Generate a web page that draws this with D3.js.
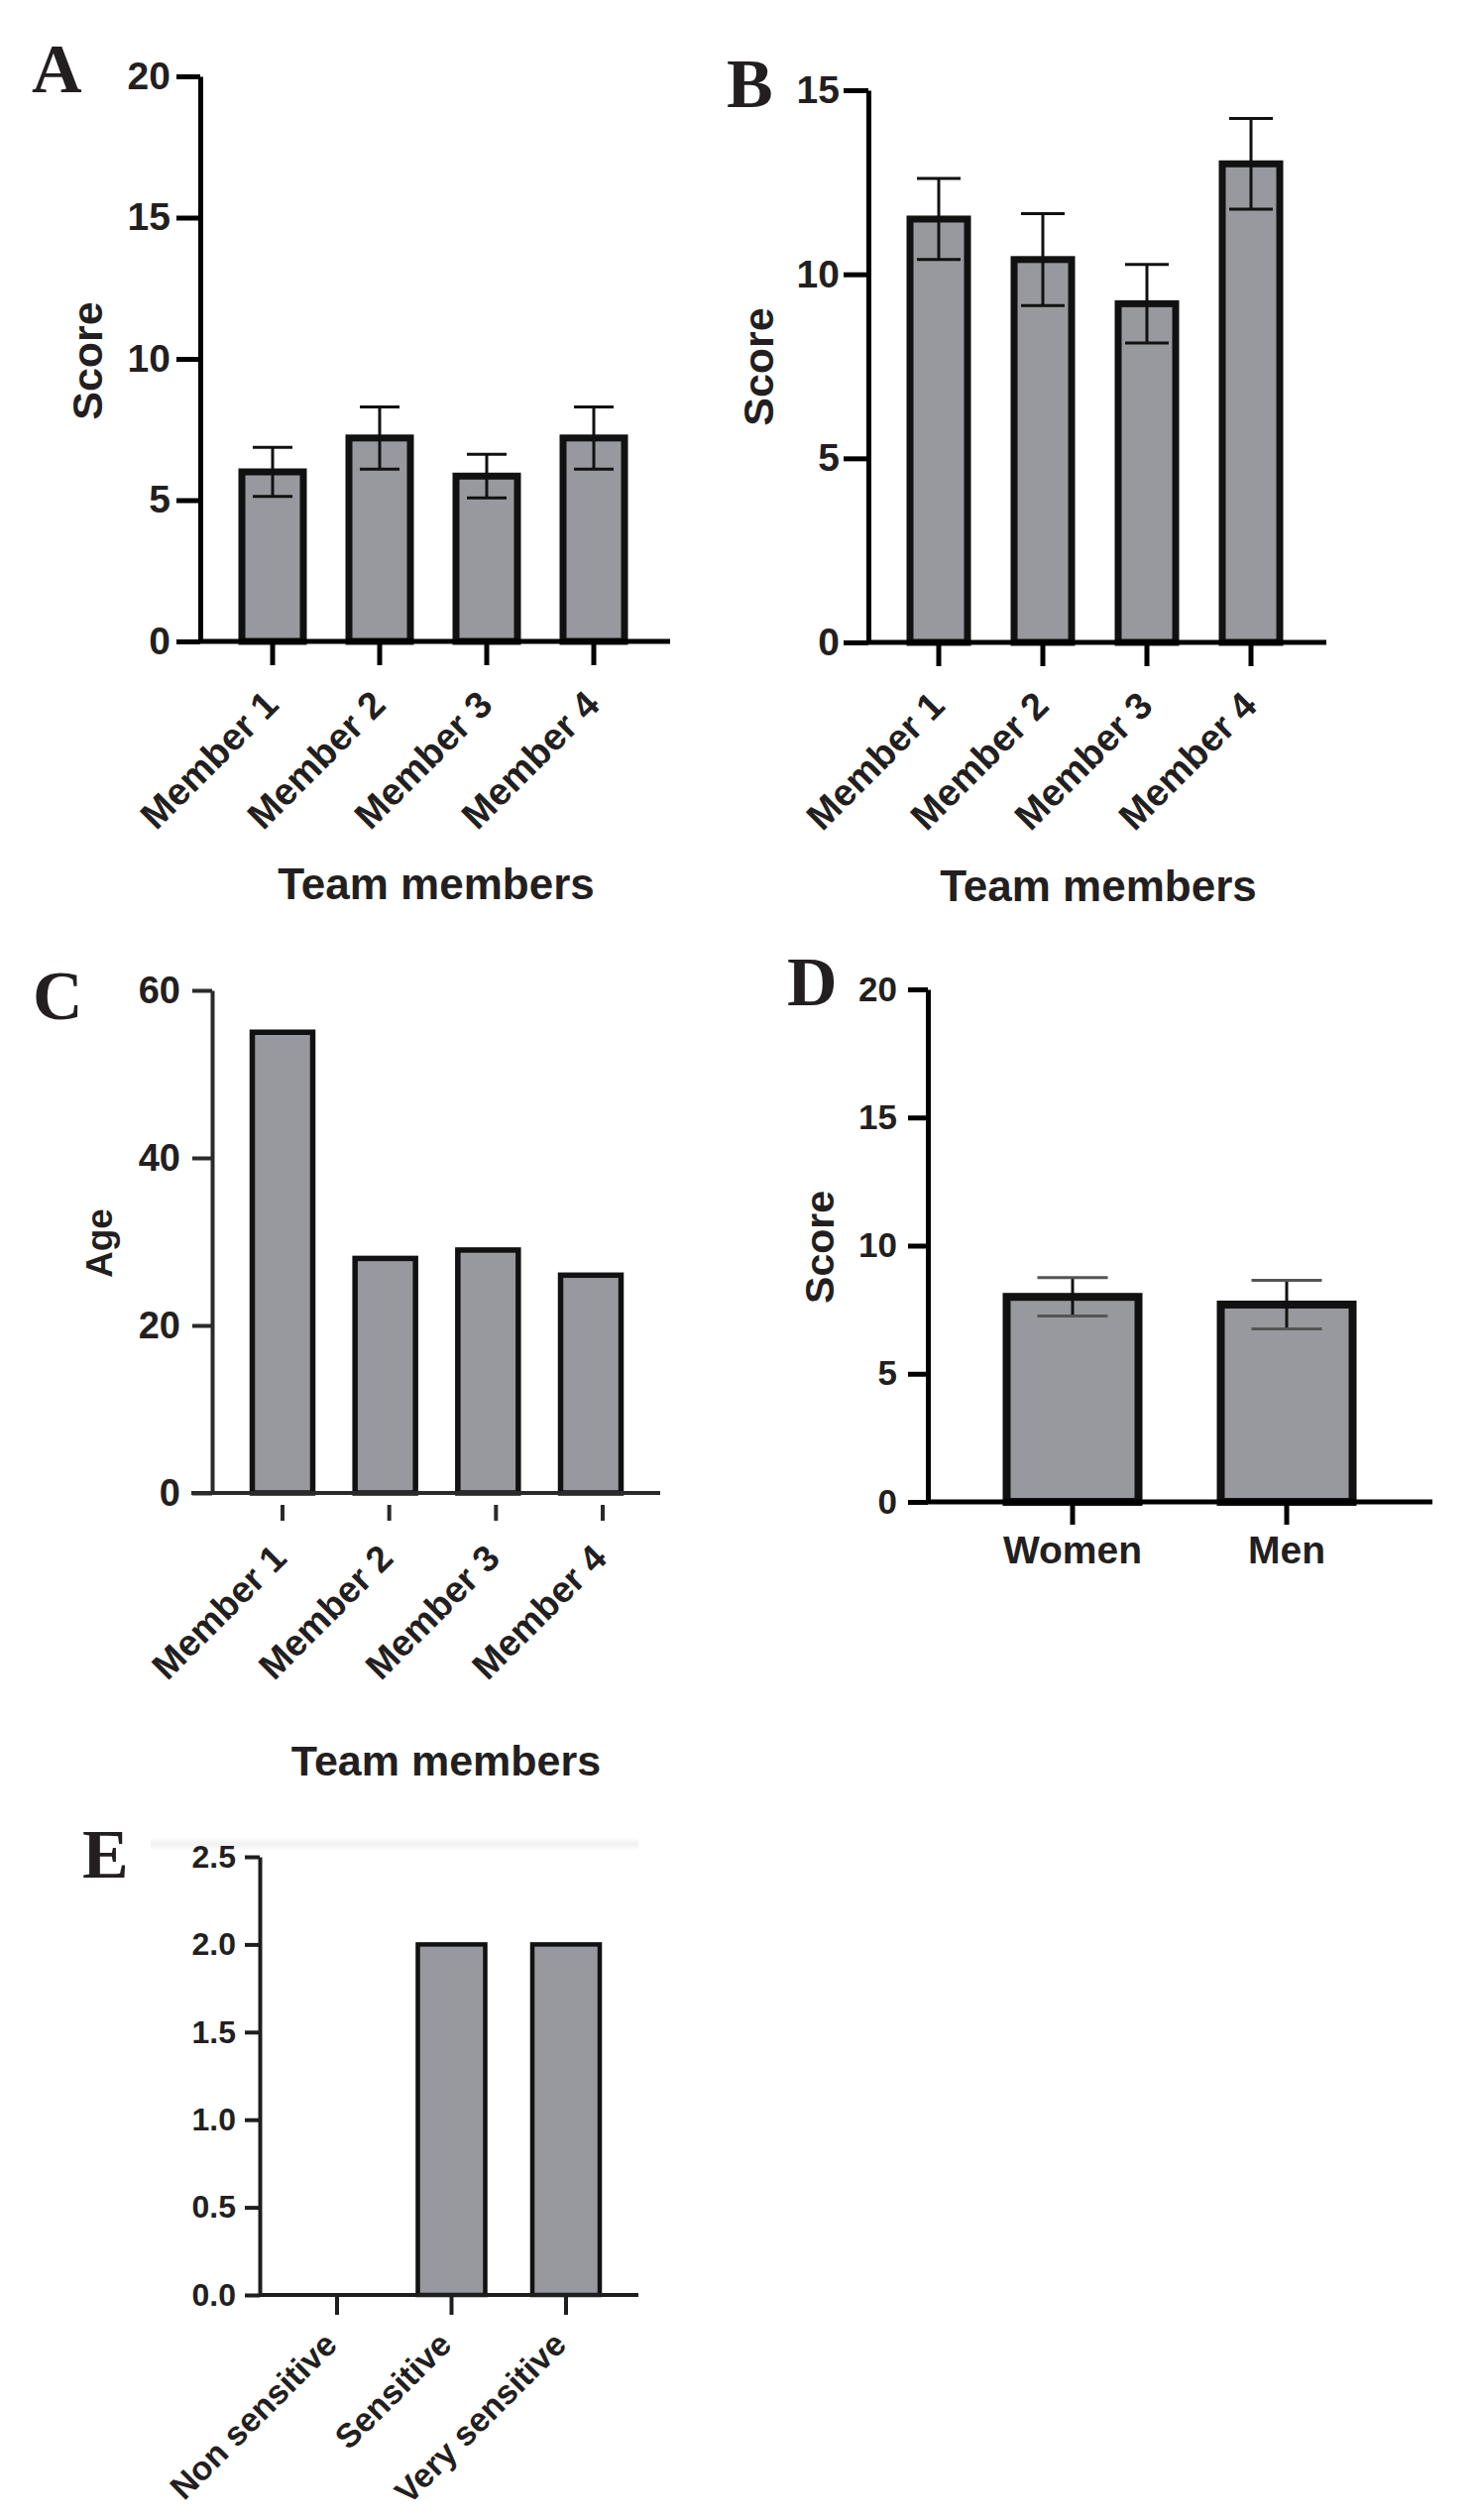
<!DOCTYPE html>
<html>
<head>
<meta charset="utf-8">
<script src="https://cdn.jsdelivr.net/npm/d3@7"></script>
<style>
  body { margin: 0; background: #fff; }
  text { font-family: "Liberation Sans", Arial, sans-serif; font-weight: bold; fill: #231f20; }
  .letter { font-family: "Liberation Serif", "Times New Roman", serif; font-size: 70px; }
</style>
</head>
<body>
<svg id="fig" width="1492" height="2542"></svg>
<script>
// values
var memberCats = ["Member 1", "Member 2", "Member 3", "Member 4"];
var scoreAMean = [6.0, 7.2, 5.85, 7.2];
var scoreAErr = [0.87, 1.1, 0.77, 1.1];
var scoreBMean = [11.5, 10.4, 9.2, 13.0];
var scoreBErr = [1.1, 1.25, 1.07, 1.23];
var ageC = [55, 28, 29, 26];
var genderCats = ["Women", "Men"];
var scoreDMean = [8.0, 7.7];
var scoreDErr = [0.75, 0.95];
var sensCats = ["Non sensitive", "Sensitive", "Very sensitive"];
var sensCount = [0, 2, 2];

var ticksA = [0, 5, 10, 15, 20];
var ticksB = [0, 5, 10, 15];
var ticksC = [0, 20, 40, 60];
var ticksD = [0, 5, 10, 15, 20];
var ticksE = [0, 0.5, 1.0, 1.5, 2.0, 2.5];

var svg = d3.select("#fig");
var barFill = "#98999e";

function panel(o) {
  var g = svg.append("g");
  var y = d3.scaleLinear().domain([0, o.yMax]).range([o.y0, o.y1]);
  var x = d3.scalePoint().domain(o.cats).range(o.xr);
  var xt = d3.scalePoint().domain(o.cats).range(o.xtr || o.xr);
  var rows = o.cats.map(function (c, i) {
    return { cat: c, v: o.values[i], e: o.errs ? o.errs[i] : null };
  });

  // panel letter
  g.append("text").attr("class", "letter")
    .attr("x", o.letterX).attr("y", o.letterY).text(o.letter);

  // y axis
  var ya = g.append("g")
    .attr("transform", "translate(" + o.ax + ",0)")
    .call(d3.axisLeft(y).tickValues(o.ticks).tickSize(o.ytick).tickSizeOuter(0)
      .tickPadding(o.ypad).tickFormat(o.fmt || d3.format("d")));
  ya.select(".domain").attr("stroke", o.axisColor).attr("stroke-width", o.axisW);
  ya.selectAll(".tick line").attr("stroke", o.axisColor).attr("stroke-width", o.axisW);
  ya.selectAll(".tick text").style("font-size", o.yfont + "px").attr("fill", "#231f20");

  // bars
  g.append("g").selectAll("rect")
    .data(rows.filter(function (d) { return d.v > 0; }))
    .enter()
    .append("rect")
    .attr("x", function (d) { return x(d.cat) - o.barW / 2; })
    .attr("y", function (d) { return y(d.v); })
    .attr("width", o.barW)
    .attr("height", function (d) { return y(0) - y(d.v); })
    .attr("fill", barFill)
    .attr("stroke", "#111")
    .attr("stroke-width", o.barStroke);

  // x axis line
  g.append("line")
    .attr("x1", o.ax - (o.xLeft || 0)).attr("x2", o.xEnd)
    .attr("y1", y(0)).attr("y2", y(0))
    .attr("stroke", o.axisColor).attr("stroke-width", o.xAxisW || o.axisW);

  // x ticks
  g.append("g").selectAll("line")
    .data(o.cats)
    .enter()
    .append("line")
    .attr("x1", function (d) { return xt(d); })
    .attr("x2", function (d) { return xt(d); })
    .attr("y1", y(0) + (o.xtickGap || 0))
    .attr("y2", y(0) + o.xtick)
    .attr("stroke", o.axisColor).attr("stroke-width", o.axisW);

  // error bars
  if (o.errs) {
    var eg = g.append("g").selectAll("g").data(rows).enter().append("g");
    eg.append("line")
      .attr("x1", function (d) { return x(d.cat); })
      .attr("x2", function (d) { return x(d.cat); })
      .attr("y1", function (d) { return y(d.v + d.e); })
      .attr("y2", function (d) { return y(d.v - d.e); })
      .attr("stroke", "#111").attr("stroke-width", o.errW);
    [1, -1].forEach(function (s) {
      eg.append("line")
        .attr("x1", function (d) { return x(d.cat) - o.capW / 2; })
        .attr("x2", function (d) { return x(d.cat) + o.capW / 2; })
        .attr("y1", function (d) { return y(d.v + s * d.e); })
        .attr("y2", function (d) { return y(d.v + s * d.e); })
        .attr("stroke", o.capColor || "#111").attr("stroke-width", o.errW);
    });
  }

  // category labels
  var lab = g.append("g").selectAll("text")
    .data(o.cats)
    .enter()
    .append("text")
    .style("font-size", o.xfont + "px")
    .text(function (d) { return d; });
  if (o.rotate) {
    lab.attr("text-anchor", "end")
      .attr("transform", function (d) {
        return "translate(" + (xt(d) + o.labDx) + "," + (y(0) + o.labDy) + ") rotate(-45)";
      });
  } else {
    lab.attr("text-anchor", "middle")
      .attr("x", function (d) { return xt(d); })
      .attr("y", y(0) + o.labDy);
  }

  // axis titles
  if (o.yTitle) {
    g.append("text")
      .attr("transform", "translate(" + o.yTitleX + "," + o.yTitleY + ") rotate(-90)")
      .attr("text-anchor", "middle")
      .attr("dominant-baseline", "central")
      .style("font-size", o.yTitleFont + "px")
      .text(o.yTitle);
  }
  if (o.xTitle) {
    g.append("text")
      .attr("x", o.xTitleX).attr("y", o.xTitleY)
      .attr("text-anchor", "middle")
      .style("font-size", o.xTitleFont + "px")
      .text(o.xTitle);
  }
  return g;
}

// A
panel({
  letter: "A", letterX: 32, letterY: 93,
  cats: memberCats, values: scoreAMean, errs: scoreAErr,
  yMax: 20, ticks: ticksA, y0: 647, y1: 77, ax: 202, xEnd: 676,
  xr: [275, 599], barW: 62, barStroke: 7, axisW: 5, axisColor: "#000",
  ytick: 24, ypad: 6, yfont: 39, xtick: 24,
  errW: 3, capW: 40,
  rotate: true, xfont: 38, labDx: 8, labDy: 66,
  yTitle: "Score", yTitleX: 88, yTitleY: 364, yTitleFont: 43,
  xTitle: "Team members", xTitleX: 440, xTitleY: 907, xTitleFont: 44
});

// B
panel({
  letter: "B", letterX: 733, letterY: 108,
  cats: memberCats, values: scoreBMean, errs: scoreBErr,
  yMax: 15, ticks: ticksB, y0: 648, y1: 91, ax: 876, xEnd: 1338,
  xr: [947, 1262], barW: 58, barStroke: 7, axisW: 5, axisColor: "#000",
  ytick: 25, ypad: 4, yfont: 39, xtick: 24,
  errW: 3, capW: 44,
  rotate: true, xfont: 38, labDx: 8, labDy: 66,
  yTitle: "Score", yTitleX: 765, yTitleY: 370, yTitleFont: 43,
  xTitle: "Team members", xTitleX: 1108, xTitleY: 909, xTitleFont: 44
});

// C
panel({
  letter: "C", letterX: 33, letterY: 1028,
  cats: memberCats, values: ageC,
  yMax: 60, ticks: ticksC, y0: 1506, y1: 999, ax: 214, xEnd: 666, xLeft: 21,
  xr: [285, 596], xtr: [285, 608], barW: 61, barStroke: 5.5, axisW: 4, axisColor: "#2a2a2a",
  ytick: 20, ypad: 12, yfont: 38, xtick: 28, xtickGap: 12,
  rotate: true, xfont: 37, labDx: 6, labDy: 68,
  yTitle: "Age", yTitleX: 100, yTitleY: 1254, yTitleFont: 37,
  xTitle: "Team members", xTitleX: 450, xTitleY: 1791, xTitleFont: 43
});

// D
panel({
  letter: "D", letterX: 794, letterY: 1014,
  cats: genderCats, values: scoreDMean, errs: scoreDErr,
  yMax: 20, ticks: ticksD, y0: 1515, y1: 998, ax: 936, xEnd: 1445,
  xr: [1082, 1298], barW: 133, barStroke: 8, axisW: 5, axisColor: "#000",
  ytick: 20, ypad: 11, yfont: 35, xtick: 23,
  errW: 3, capW: 71, capColor: "#555",
  rotate: false, xfont: 39, labDy: 62,
  yTitle: "Score", yTitleX: 827, yTitleY: 1258, yTitleFont: 41
});

// E: faint band along the top edge
var shade = svg.append("defs").append("linearGradient")
  .attr("id", "shadeE").attr("x1", 0).attr("x2", 0).attr("y1", 0).attr("y2", 1);
shade.append("stop").attr("offset", "0%").attr("stop-color", "#ffffff");
shade.append("stop").attr("offset", "50%").attr("stop-color", "#f1f1f1");
shade.append("stop").attr("offset", "100%").attr("stop-color", "#ffffff");
svg.append("rect").attr("x", 152).attr("y", 1853).attr("width", 492).attr("height", 14)
  .attr("fill", "url(#shadeE)");

panel({
  letter: "E", letterX: 83, letterY: 1894,
  cats: sensCats, values: sensCount,
  yMax: 2.5, ticks: ticksE, y0: 2315, y1: 1873, ax: 262, xEnd: 644,
  xr: [340, 571], barW: 68, barStroke: 4.5, axisW: 4, axisColor: "#1e1e1e",
  ytick: 15, ypad: 9, yfont: 32, xtick: 20, fmt: d3.format(".1f"),
  rotate: true, xfont: 34, labDx: 2, labDy: 52
});
</script>
</body>
</html>
